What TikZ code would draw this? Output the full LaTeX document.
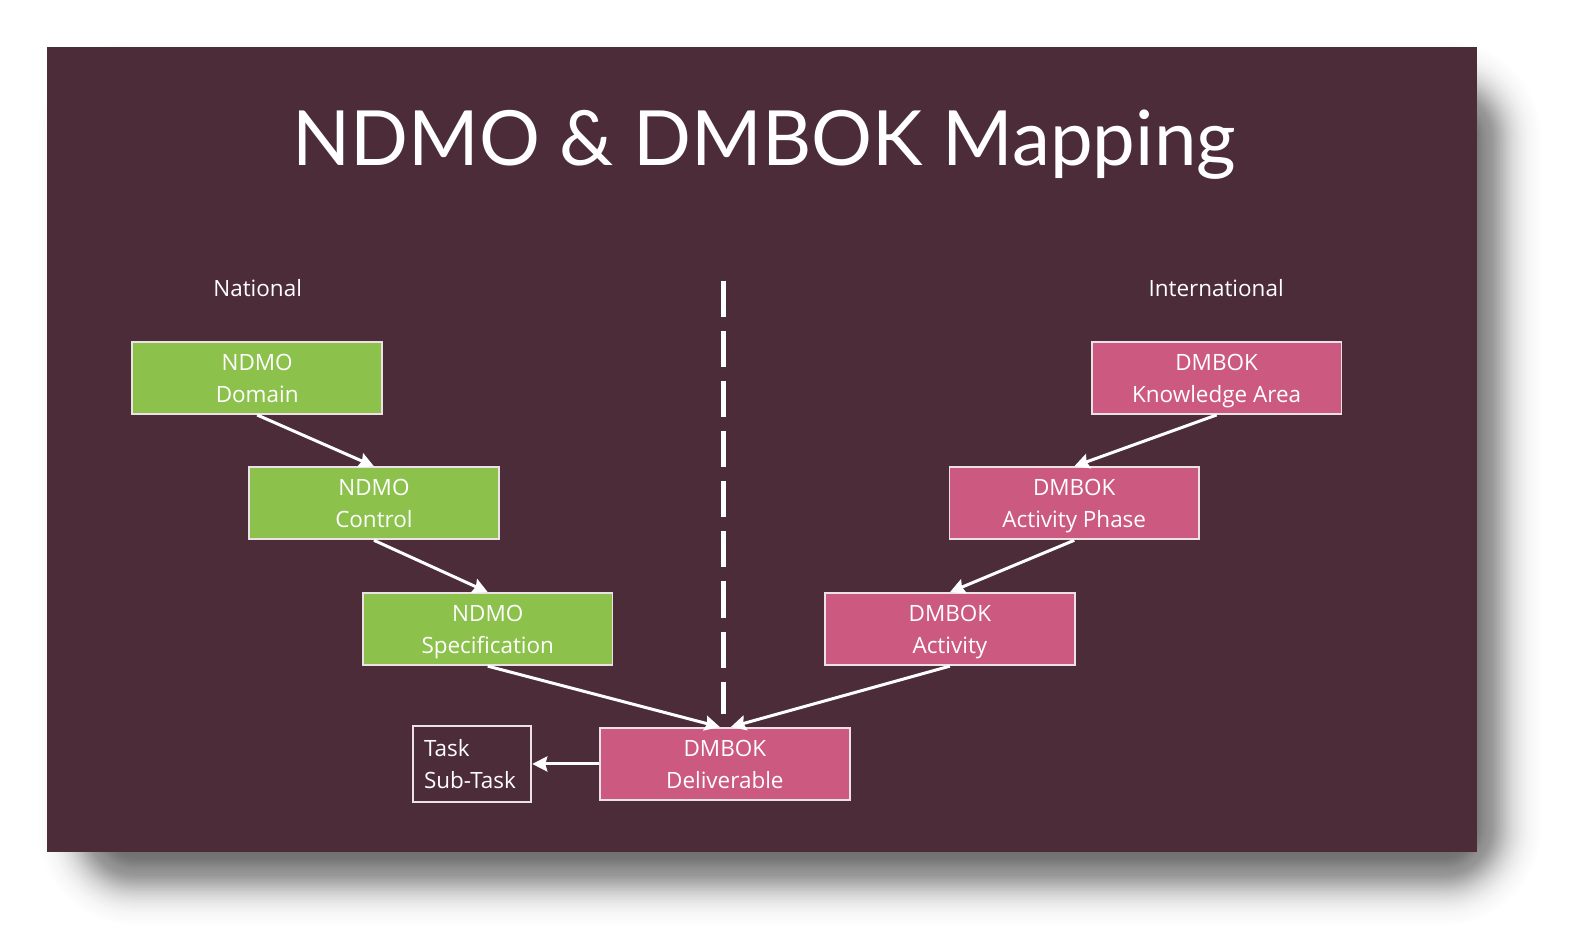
\documentclass[tikz,border=0pt]{standalone}
\usepackage{fontspec}
\setmainfont{Open Sans}
\newfontfamily\titlefont{Lato}
\usetikzlibrary{arrows.meta,calc}
\definecolor{slidebg}{RGB}{77,44,57}
\definecolor{ndmogreen}{RGB}{140,193,76}
\definecolor{dmbokpink}{RGB}{204,90,128}
\definecolor{boxline}{RGB}{235,225,230}
\newcommand{\sa}{\rule[-3.5pt]{0pt}{15.5pt}}
\begin{document}
\begin{tikzpicture}[x=0.5pt,y=-0.5pt,
  boxtext/.style={text=white, font=\fontsize{11.2}{16}\selectfont},
  box/.style={boxtext, draw=boxline, line width=0.9pt, minimum width=124.5pt, minimum height=36pt,
    inner sep=0pt, align=center},
  greenbox/.style={box, fill=ndmogreen},
  pinkbox/.style={box, fill=dmbokpink},
  plainbox/.style={boxtext, draw=boxline, line width=0.9pt, minimum width=59pt, minimum height=38pt,
    inner xsep=5.5pt, inner ysep=0pt, text width=48pt, align=left},
  sidelabel/.style={text=white, font=\fontsize{11.2}{16}\selectfont, anchor=base},
  arr/.style={draw=white, line width=1.5pt, -{Stealth[length=7.5pt,width=7.5pt,inset=1pt]}},
  divider/.style={draw=white, line width=2.5pt, dash pattern=on 18pt off 7pt}
]
\useasboundingbox (0,0) rectangle (1568,944.6);
\fill[white] (-10,-10) rectangle (1590,960);
% soft drop shadow of the slide (stacked translucent layers, gaussian-like falloff)
\foreach \i in {0,...,80}{
  \pgfmathsetmacro{\e}{-60+1.5*\i}
  \pgfmathsetmacro{\al}{0.0215*exp(-0.5*(\e/22)^2)}
  \pgfmathsetmacro{\xa}{85-\e}
  \pgfmathsetmacro{\ya}{88-\e}
  \pgfmathsetmacro{\xb}{1490+\e}
  \pgfmathsetmacro{\yb}{875+\e}
  \pgfmathsetmacro{\rc}{0.5*max(\e+50,2)}
  \fill[black, opacity=\al, rounded corners=\rc pt]
    (\xa,\ya) rectangle (\xb,\yb);
}
\fill[slidebg] (47,47) rectangle (1473,850);

\node[text=white, anchor=base, font=\titlefont\fontsize{38}{40}\selectfont] (title) at (762,165) {NDMO \& DMBOK Mapping};

\node[sidelabel] (national) at (257,296) {National};
\node[sidelabel] (international) at (1213,296) {International};

\coordinate (dtop) at (722,280);
\coordinate (dbot) at (722,712);
\draw[divider] (dtop) -- (dbot);

\node[greenbox] (domain) at (256.5,377) {NDMO\sa\\Domain\sa};
\node[greenbox] (control) at (373,502) {NDMO\sa\\Control\sa};
\node[greenbox] (spec) at (486.5,627.5) {NDMO\sa\\Specification\sa};

\node[pinkbox] (ka) at (1213.5,377) {DMBOK\sa\\Knowledge Area\sa};
\node[pinkbox] (phase) at (1071.5,502) {DMBOK\sa\\Activity Phase\sa};
\node[pinkbox] (activity) at (947.5,627.5) {DMBOK\sa\\Activity\sa};

\node[pinkbox] (deliv) at (723,762) {DMBOK\sa\\Deliverable\sa};
\node[plainbox] (task) at (471,762) {Task\sa\\Sub-Task\sa};

\draw[arr] (domain.south) -- (control.north);
\draw[arr] (control.south) -- (spec.north);
\draw[arr] (spec.south) -- ([xshift=-2.5pt]deliv.north);
\draw[arr] (ka.south) -- (phase.north);
\draw[arr] (phase.south) -- (activity.north);
\draw[arr] (activity.south) -- ([xshift=3pt]deliv.north);
\draw[arr] (deliv.west) -- (task.east);
\end{tikzpicture}
\end{document}
